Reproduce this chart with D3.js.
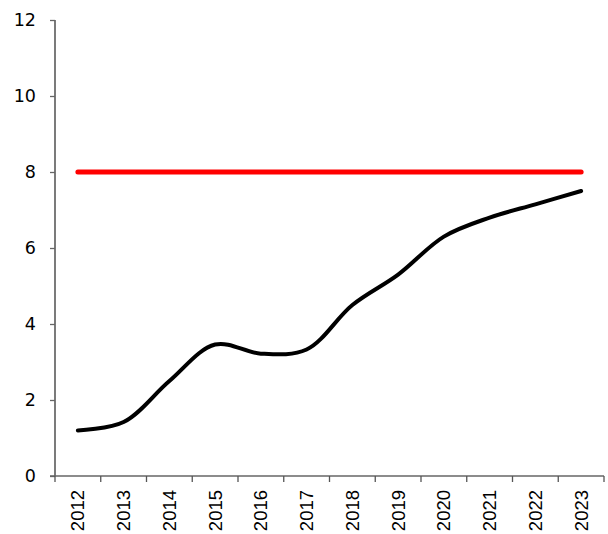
<!DOCTYPE html>
<html>
<head>
<meta charset="utf-8">
<script src="https://cdn.jsdelivr.net/npm/d3@7"></script>
<style>
  body { margin: 0; background: #fff; }
  svg { display: block; }
</style>
</head>
<body>
<svg id="chart" width="608" height="534"></svg>
<script>
const years = ["2012","2013","2014","2015","2016","2017","2018","2019","2020","2021","2022","2023"];
const seriesValues = [1.2, 1.42, 2.5, 3.46, 3.22, 3.33, 4.5, 5.3, 6.3, 6.8, 7.15, 7.5];
const targetValues = [8, 8, 8, 8, 8, 8, 8, 8, 8, 8, 8, 8];
const yTicks = [0, 2, 4, 6, 8, 10, 12];

const svg = d3.select("#chart");
const margin = { left: 55, right: 4, top: 20, bottom: 58 };
const W = 608, H = 534;

const x = d3.scaleBand().domain(years).range([margin.left, W - margin.right]);
const y = d3.scaleLinear().domain([0, 12]).range([H - margin.bottom, margin.top]);

// y axis
const yAxis = svg.append("g")
  .attr("transform", `translate(${margin.left},0)`)
  .call(d3.axisLeft(y).tickValues(yTicks).tickSize(5).tickPadding(14).tickFormat(d3.format("d")));
yAxis.select(".domain").attr("stroke", "#333").attr("stroke-width", 1.3).attr("d", `M0,${y(12)}V${y(0)}`);
yAxis.selectAll(".tick line").attr("stroke", "#666").attr("stroke-width", 1.3);
yAxis.selectAll(".tick text").attr("font-family", "DejaVu Sans, sans-serif").attr("font-size", 17.5).attr("fill", "#000");

// x axis
const xAxis = svg.append("g")
  .attr("transform", `translate(0,${y(0)})`)
  .call(d3.axisBottom(x).tickSize(0).tickPadding(0));
xAxis.select(".domain").attr("stroke", "#666").attr("stroke-width", 1.3).attr("d", `M${margin.left - 5},0H${W - margin.right}`);
// band boundary ticks
xAxis.selectAll(".bound").data(d3.range(years.length + 1)).enter().append("line")
  .attr("class", "bound")
  .attr("x1", i => margin.left + i * x.step()).attr("x2", i => margin.left + i * x.step())
  .attr("y1", 0).attr("y2", 6).attr("stroke", "#555").attr("stroke-width", 1.3);
xAxis.selectAll(".tick text")
  .attr("font-family", "Liberation Sans, Arial, sans-serif").attr("font-size", 18.5).attr("fill", "#000")
  .attr("text-anchor", "end").attr("dy", "0.35em")
  .attr("transform", "translate(0,14) rotate(-90)")
  .attr("x", 0).attr("y", 0);

const cx = d => x(d) + x.bandwidth() / 2;

// target line
const flat = d3.line().x((d, i) => cx(years[i])).y(d => y(d));
svg.append("path").datum(targetValues)
  .attr("d", flat).attr("fill", "none").attr("stroke", "#ff0000")
  .attr("stroke-width", 5).attr("stroke-linecap", "round");

// series line
const smooth = d3.line().x((d, i) => cx(years[i])).y(d => y(d)).curve(d3.curveCatmullRom.alpha(0.5));
svg.append("path").datum(seriesValues)
  .attr("d", smooth).attr("fill", "none").attr("stroke", "#000")
  .attr("stroke-width", 4).attr("stroke-linecap", "round").attr("stroke-linejoin", "round");
</script>
</body>
</html>
